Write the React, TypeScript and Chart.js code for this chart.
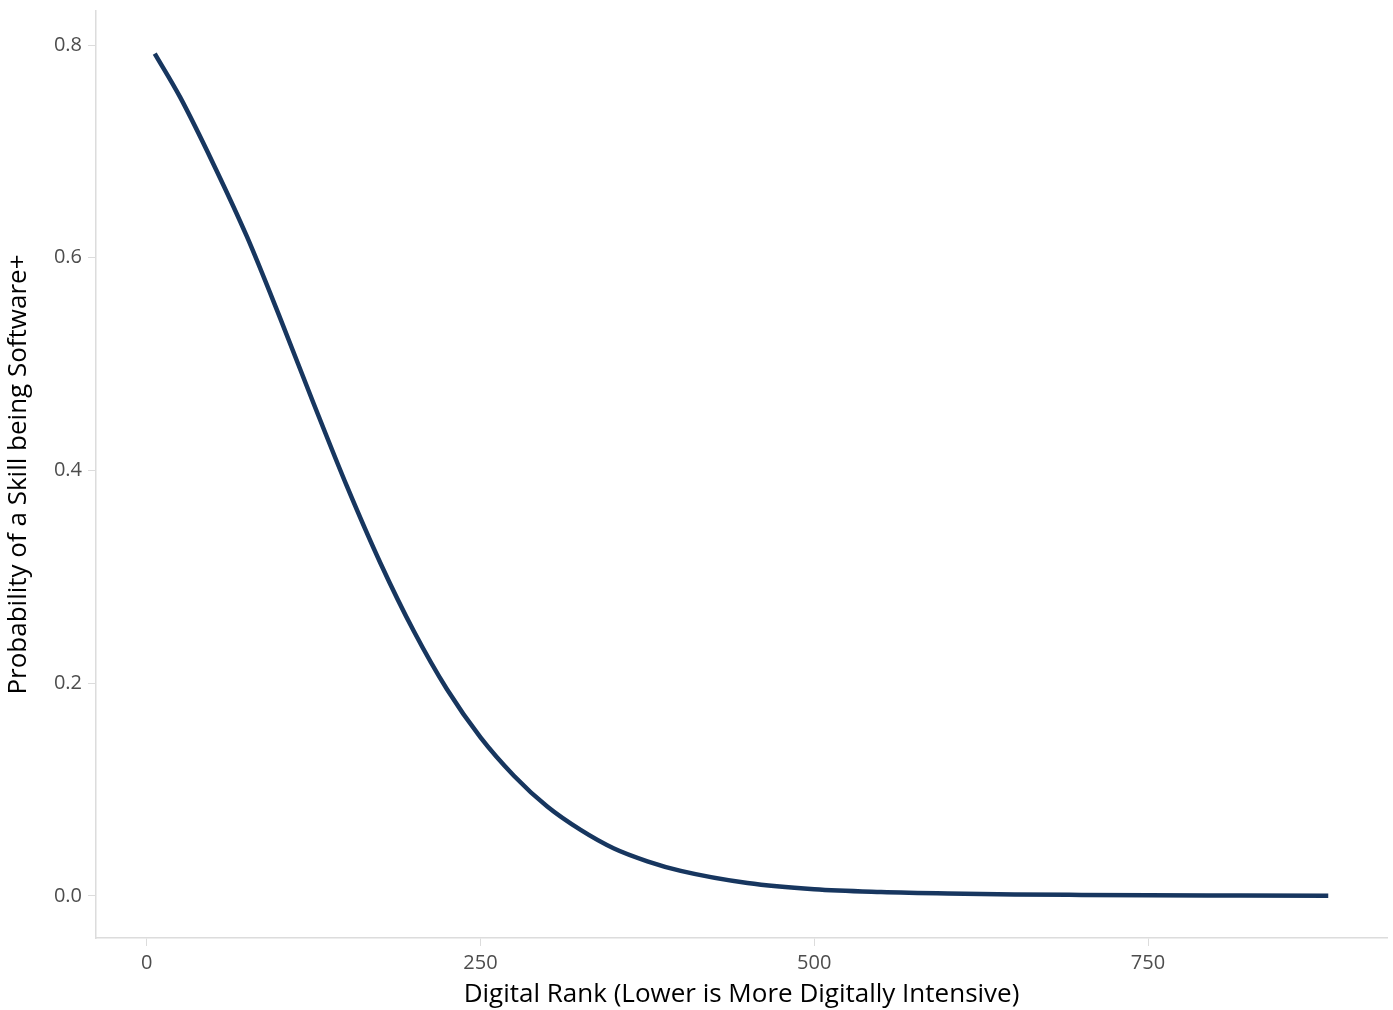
import React, { useEffect, useRef } from "react";
import { Chart, registerables } from "chart.js";

Chart.register(...registerables);

// Digital rank (x) and predicted probability (y)
const RANKS = [6, 25, 50, 75, 100, 125, 150, 175, 200, 225, 250, 275, 300, 325, 350, 375, 400, 450, 500, 550, 600, 650, 700, 750, 800, 885];
const PROBS = [0.792, 0.751, 0.688, 0.62, 0.543, 0.463, 0.385, 0.313, 0.249, 0.194, 0.149, 0.113, 0.084, 0.062, 0.0445, 0.0325, 0.0235, 0.0121, 0.0062, 0.0036, 0.0022, 0.0014, 0.0009, 0.0005, 0.0003, 0.0001];

const X_TICKS = [0, 250, 500, 750];
const Y_TICKS = [0, 0.2, 0.4, 0.6, 0.8];

const X_TITLE = "Digital Rank (Lower is More Digitally Intensive)";
const Y_TITLE = "Probability of a Skill being Software+";

const FONT = "'Open Sans', 'Noto Sans', sans-serif";
const AXIS_GREY = "#dcdcdc";
const TICK_TEXT = "#4d4d4d";
const LINE_COLOR = "#17365f";

export default function App() {
  const ref = useRef<HTMLCanvasElement | null>(null);

  useEffect(() => {
    const canvas = ref.current;
    if (!canvas) return;
    const chart = new Chart(canvas, {
      type: "line",
      data: {
        datasets: [
          {
            data: RANKS.map((r, i) => ({ x: r, y: PROBS[i] })),
            borderColor: LINE_COLOR,
            borderWidth: 4.5,
            pointRadius: 0,
            fill: false,
            cubicInterpolationMode: "monotone",
            borderCapStyle: "butt",
          },
        ],
      },
      options: {
        animation: false,
        responsive: false,
        maintainAspectRatio: false,
        layout: { padding: { left: 0, right: 6, top: 11, bottom: 0 } },
        plugins: { legend: { display: false }, tooltip: { enabled: false } },
        scales: {
          x: {
            type: "linear",
            min: -38,
            max: 929,
            afterFit: (s: any) => {
              s.height = 72;
              s.paddingLeft = 0;
              s.paddingRight = 0;
            },
            afterBuildTicks: (s: any) => {
              s.ticks = X_TICKS.map((v) => ({ value: v }));
            },
            grid: {
              drawOnChartArea: false,
              drawTicks: true,
              tickLength: 8,
              color: AXIS_GREY,
              lineWidth: 1,
            },
            border: { display: true, color: AXIS_GREY, width: 1.5 },
            ticks: {
              color: TICK_TEXT,
              font: { family: FONT, size: 20 },
              padding: 5,
              maxRotation: 0,
              callback: (v: any) => String(v),
            },
            title: {
              display: true,
              text: X_TITLE,
              color: "#000000",
              font: { family: FONT, size: 26 },
              padding: { top: 0, bottom: 0 },
            },
          },
          y: {
            type: "linear",
            min: -0.0396,
            max: 0.832,
            afterFit: (s: any) => {
              s.width = 96;
              s.paddingTop = 0;
              s.paddingBottom = 0;
            },
            afterBuildTicks: (s: any) => {
              s.ticks = Y_TICKS.map((v) => ({ value: v }));
            },
            grid: {
              drawOnChartArea: false,
              drawTicks: true,
              tickLength: 8,
              color: AXIS_GREY,
              lineWidth: 1,
            },
            border: { display: true, color: AXIS_GREY, width: 1.5 },
            ticks: {
              color: TICK_TEXT,
              font: { family: FONT, size: 20 },
              padding: 6,
              callback: (v: any) => Number(v).toFixed(1),
            },
            title: {
              display: true,
              text: Y_TITLE,
              color: "#000000",
              font: { family: FONT, size: 26 },
              padding: { top: 3, bottom: 0 },
            },
          },
        },
      },
    });
    return () => chart.destroy();
  }, []);

  return (
    <div style={{ position: "absolute", left: 0, top: 0, width: 1393, height: 1010, background: "#ffffff" }}>
      <canvas ref={ref} width={1393} height={1010} style={{ display: "block", width: 1393, height: 1010 }} />
    </div>
  );
}
